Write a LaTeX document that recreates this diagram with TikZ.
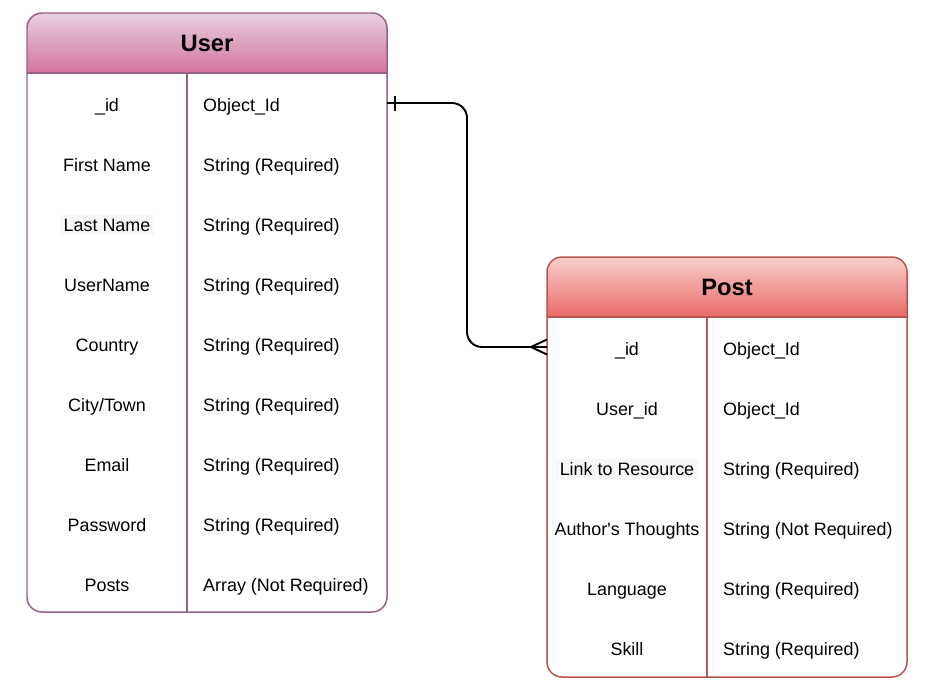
\documentclass[tikz,border=0pt]{standalone}
\usepackage{fontspec}
\setmainfont{Liberation Sans}

\definecolor{userline}{HTML}{996185}
\definecolor{usertop}{HTML}{E6D0DE}
\definecolor{userbot}{HTML}{D5739D}
\definecolor{postline}{HTML}{B85450}
\definecolor{posttop}{HTML}{F8CECC}
\definecolor{postbot}{HTML}{EA6B66}
\definecolor{hlgray}{HTML}{F6F7F9}

\tikzset{
  field/.style={font=\fontsize{10.2}{12}\selectfont, anchor=base},
  ftype/.style={field, anchor=base west},
  title/.style={font=\fontsize{13.5}{16}\selectfont\bfseries},
  hl/.style={fill=hlgray, inner sep=2pt},
  border/.style={line width=0.85pt},
  rel/.style={line width=1.1pt, rounded corners=0.3cm},
}

\begin{document}
\begin{tikzpicture}[x=0.02cm, y=0.02cm]
  \useasboundingbox (0,0) rectangle (936,-690);

  % User table
  \shade[top color=usertop, bottom color=userbot] (27,-73) -- (27,-28)
    arc[start angle=180, end angle=90, radius=0.3cm] -- (372,-13)
    arc[start angle=90, end angle=0, radius=0.3cm] -- (387,-73) -- cycle;
  \draw[userline, border, rounded corners=0.3cm] (27,-13) rectangle (387,-612);
  \draw[userline, border] (27,-73) -- (387,-73);
  \draw[userline, border] (187,-73) -- (187,-612);
  \node[title] (user) at (207,-43) {User};

  \node[field] (u-id)    at (107,-111) {\_id};
  \node[field] (u-first) at (107,-171) {First Name};
  \node[field, hl] (u-last) at (107,-231) {Last Name};
  \node[field] (u-uname) at (107,-291) {UserName};
  \node[field] (u-cntry) at (107,-351) {Country};
  \node[field] (u-city)  at (107,-411) {City/Town};
  \node[field] (u-email) at (107,-471) {Email};
  \node[field] (u-pass)  at (107,-531) {Password};
  \node[field] (u-posts) at (107,-591) {Posts};

  \node[ftype] (u-id-t)    at (197,-111) {Object\_Id};
  \node[ftype] (u-first-t) at (197,-171) {String (Required)};
  \node[ftype] (u-last-t)  at (197,-231) {String (Required)};
  \node[ftype] (u-uname-t) at (197,-291) {String (Required)};
  \node[ftype] (u-cntry-t) at (197,-351) {String (Required)};
  \node[ftype] (u-city-t)  at (197,-411) {String (Required)};
  \node[ftype] (u-email-t) at (197,-471) {String (Required)};
  \node[ftype] (u-pass-t)  at (197,-531) {String (Required)};
  \node[ftype] (u-posts-t) at (197,-591) {Array (Not Required)};

  % Post table
  \shade[top color=posttop, bottom color=postbot] (547,-317) -- (547,-272)
    arc[start angle=180, end angle=90, radius=0.3cm] -- (892,-257)
    arc[start angle=90, end angle=0, radius=0.3cm] -- (907,-317) -- cycle;
  \draw[postline, border, rounded corners=0.3cm] (547,-257) rectangle (907,-677);
  \draw[postline, border] (547,-317) -- (907,-317);
  \draw[postline, border] (707,-317) -- (707,-677);
  \node[title] (post) at (727,-287) {Post};

  \node[field] (p-id)    at (627,-355) {\_id};
  \node[field] (p-uid)   at (627,-415) {User\_id};
  \node[field, hl] (p-link) at (627,-475) {Link to Resource};
  \node[field] (p-auth)  at (627,-535) {Author\textquotesingle s Thoughts};
  \node[field] (p-lang)  at (627,-595) {Language};
  \node[field] (p-skill) at (627,-655) {Skill};

  \node[ftype] (p-id-t)    at (717,-355) {Object\_Id};
  \node[ftype] (p-uid-t)   at (717,-415) {Object\_Id};
  \node[ftype] (p-link-t)  at (717,-475) {String (Required)};
  \node[ftype] (p-auth-t)  at (717,-535) {String (Not Required)};
  \node[ftype] (p-lang-t)  at (717,-595) {String (Required)};
  \node[ftype] (p-skill-t) at (717,-655) {String (Required)};

  % relation: one user, many posts
  \coordinate (u-end) at (387,-103);
  \coordinate (p-end) at (547,-347);
  \draw[rel] (u-end) -- (467,-103) |- (p-end);
  \draw[line width=1.1pt] (u-end) ++(8,7.5) -- ++(0,-15);
  \draw[line width=1.1pt] (p-end) ++(0,7.5) -- ++(-16,-7.5) -- ++(16,-7.5);
\end{tikzpicture}
\end{document}
